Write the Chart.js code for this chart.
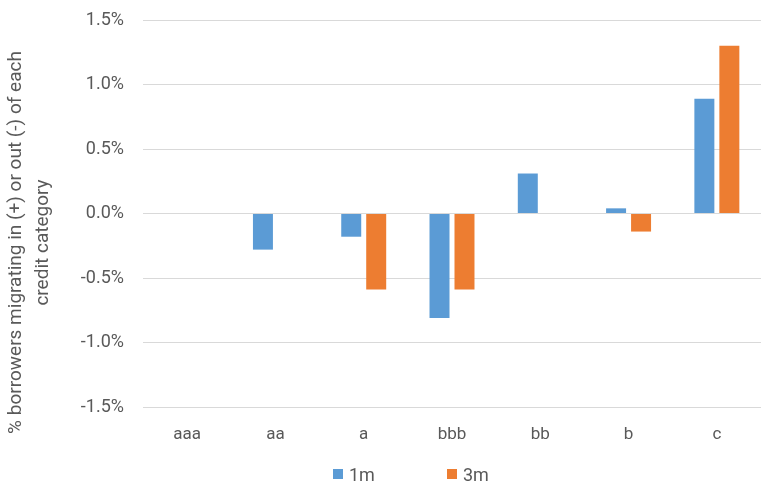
<!DOCTYPE html>
<html><head><meta charset="utf-8">
<script src="https://cdn.jsdelivr.net/npm/chart.js@4.4.0/dist/chart.umd.min.js"></script>
<style>
html,body{margin:0;padding:0;background:#fff;}
#wrap{position:relative;width:768px;height:499px;}
#legend{position:absolute;left:0;top:462px;width:768px;height:24px;font-family:Roboto,sans-serif;font-size:18px;color:#595959;}
.item{position:absolute;top:0;display:flex;align-items:center;height:24px;white-space:nowrap;}
.box{width:10px;height:10px;margin-right:6px;}
</style></head><body>
<div id="wrap"><canvas id="c" width="768" height="499"></canvas><div id="legend"></div></div>
<script>
const categories = ['aaa', 'aa', 'a', 'bbb', 'bb', 'b', 'c'];
const series1m = [0, -0.28, -0.18, -0.81, 0.31, 0.04, 0.89];
const series3m = [0, 0, -0.59, -0.59, 0, -0.14, 1.30];
const seriesNames = ['1m', '3m'];
const seriesColors = ['#5B9BD5', '#ED7D31'];
const yTicks = [-1.5, -1.0, -0.5, 0.0, 0.5, 1.0, 1.5];
const yTitle = ['% borrowers migrating in (+) or out (-) of each', 'credit category'];

const textColor = '#595959';
const fontFamily = 'Roboto, sans-serif';

const titleShift = {
  id: 'titleShift',
  afterLayout(chart) {
    const s = chart.scales.y;
    if (s && !s._shifted) {
      const orig = s.drawTitle;
      s.drawTitle = function () {
        const shift = 29;
        const t = this.top, b = this.bottom;
        this.top += shift; this.bottom += shift;
        orig.call(this);
        this.top = t; this.bottom = b;
      };
      s._shifted = true;
    }
  }
};

const chart = new Chart(document.getElementById('c'), {
  type: 'bar',
  data: {
    labels: categories,
    datasets: [
      { label: seriesNames[0], data: series1m, backgroundColor: seriesColors[0] },
      { label: seriesNames[1], data: series3m, backgroundColor: seriesColors[1] }
    ]
  },
  options: {
    responsive: false,
    animation: false,
    devicePixelRatio: 1,
    layout: { padding: { top: 20, right: 7, bottom: 0, left: 0 } },
    datasets: { bar: { categoryPercentage: 0.566, barPercentage: 0.8 } },
    plugins: { legend: { display: false }, tooltip: { enabled: false } },
    scales: {
      x: {
        grid: { display: false, drawTicks: false },
        border: { display: false },
        ticks: { color: textColor, font: { family: fontFamily, size: 17 }, padding: 18 },
        afterFit(s) { s.height = 92; }
      },
      y: {
        min: -1.5, max: 1.5,
        afterBuildTicks(s) { s.ticks = yTicks.map(v => ({ value: v })); },
        grid: { color: '#D9D9D9', lineWidth: 1, drawTicks: false },
        border: { display: false },
        ticks: {
          color: textColor, font: { family: fontFamily, size: 18 }, padding: 19,
          callback: v => v.toFixed(1) + '%'
        },
        title: {
          display: true, text: yTitle, color: textColor,
          font: { family: fontFamily, size: 19, lineHeight: 1.42 },
          padding: { top: 3, bottom: 0 }
        },
        afterFit(s) { s.width = 143; s.paddingTop = 0; s.paddingBottom = 0; }
      }
    }
  },
  plugins: [titleShift]
});

const legendEl = document.getElementById('legend');
const legendLeft = [333, 447];
seriesNames.forEach((name, i) => {
  const item = document.createElement('div');
  item.className = 'item';
  item.style.left = legendLeft[i] + 'px';
  const box = document.createElement('span');
  box.className = 'box';
  box.style.background = seriesColors[i];
  const txt = document.createElement('span');
  txt.textContent = name;
  item.appendChild(box); item.appendChild(txt);
  legendEl.appendChild(item);
});
</script>
</body></html>
